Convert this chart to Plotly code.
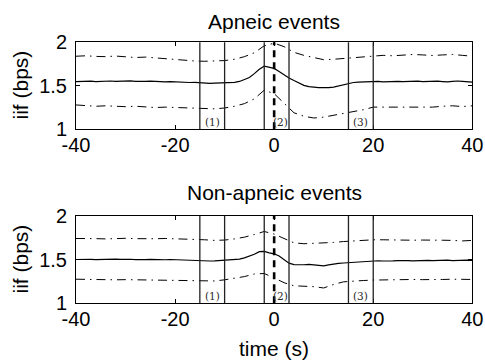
import plotly.graph_objects as go

# ---------------- data ----------------
time_fine = list(range(-40, 41))          # 1 s steps for mean curves
time_coarse = list(range(-40, 41, 2))     # 2 s steps for percentile bands

apneic_mean = [
    1.548, 1.552, 1.556, 1.553, 1.549, 1.553, 1.558, 1.555, 1.551, 1.555,
    1.559, 1.556, 1.550, 1.546, 1.550, 1.553, 1.548, 1.542, 1.545, 1.549,
    1.545, 1.538, 1.535, 1.538, 1.540,
    1.535, 1.530, 1.528, 1.530, 1.532, 1.533, 1.535, 1.540, 1.550, 1.568,
    1.595, 1.640, 1.690, 1.725, 1.715, 1.700, 1.665, 1.625, 1.590, 1.560,
    1.530, 1.505, 1.490, 1.480, 1.478, 1.480, 1.478, 1.485, 1.500, 1.515,
    1.530, 1.538, 1.542, 1.545, 1.548, 1.552, 1.550, 1.546, 1.550, 1.555,
    1.552, 1.547, 1.551, 1.556, 1.553, 1.548, 1.552, 1.557, 1.554, 1.549,
    1.545, 1.550, 1.555, 1.551, 1.546, 1.543,
]
apneic_upper = [
    1.840, 1.845, 1.838, 1.835, 1.842, 1.835, 1.825, 1.830, 1.820, 1.810,
    1.800, 1.795, 1.785, 1.782, 1.788, 1.790, 1.805, 1.835, 1.880, 1.960,
    1.990, 1.950, 1.885, 1.850, 1.825, 1.800, 1.805, 1.815, 1.825, 1.835,
    1.840, 1.850, 1.845, 1.855, 1.860, 1.855, 1.848, 1.855, 1.860, 1.850,
    1.840,
]
apneic_lower = [
    1.280, 1.275, 1.265, 1.270, 1.262, 1.260, 1.265, 1.255, 1.250, 1.255,
    1.250, 1.245, 1.240, 1.238, 1.235, 1.245, 1.265, 1.295, 1.350, 1.450,
    1.410, 1.300, 1.190, 1.150, 1.130, 1.140, 1.160, 1.185, 1.205, 1.225,
    1.255, 1.255, 1.260, 1.255, 1.262, 1.260, 1.255, 1.265, 1.270, 1.262,
    1.270,
]

nonapneic_mean = [
    1.500, 1.503, 1.505, 1.502, 1.499, 1.502, 1.506, 1.508, 1.505, 1.502,
    1.505, 1.503, 1.499, 1.496, 1.498, 1.501, 1.498, 1.495, 1.497, 1.500,
    1.497, 1.493, 1.492, 1.494, 1.491,
    1.488, 1.485, 1.483, 1.484, 1.487, 1.490, 1.492, 1.496, 1.505, 1.518,
    1.535, 1.560, 1.590, 1.592, 1.575, 1.565, 1.540, 1.500, 1.458, 1.442,
    1.438, 1.440, 1.444, 1.440, 1.432, 1.428, 1.438, 1.450, 1.455, 1.460,
    1.465, 1.468, 1.470, 1.472, 1.476, 1.482, 1.486, 1.483, 1.480, 1.484,
    1.488, 1.491, 1.488, 1.485, 1.489, 1.493, 1.490, 1.487, 1.490, 1.494,
    1.492, 1.488, 1.490, 1.494, 1.492, 1.489,
]
nonapneic_upper = [
    1.740, 1.742, 1.738, 1.735, 1.740, 1.742, 1.738, 1.735, 1.737, 1.740,
    1.738, 1.735, 1.732, 1.725, 1.718, 1.722, 1.735, 1.755, 1.785, 1.820,
    1.790, 1.740, 1.690, 1.680, 1.683, 1.688, 1.695, 1.705, 1.712, 1.720,
    1.725, 1.725, 1.722, 1.725, 1.720, 1.722, 1.725, 1.720, 1.718, 1.712,
    1.718,
]
nonapneic_lower = [
    1.275, 1.272, 1.270, 1.272, 1.268, 1.270, 1.268, 1.265, 1.268, 1.265,
    1.262, 1.264, 1.262, 1.255, 1.255, 1.268, 1.285, 1.305, 1.335, 1.340,
    1.290, 1.235, 1.200, 1.195, 1.190, 1.175, 1.215, 1.245, 1.255, 1.260,
    1.265, 1.268, 1.270, 1.268, 1.272, 1.270, 1.268, 1.272, 1.275, 1.270,
    1.272,
]

window_edges = [-15, -10, -2, 3, 15, 20]
event_time = [0]
window_labels = ["(1)", "(2)", "(3)"]
window_label_x = [-12.5, 1.3, 17.5]
window_label_y = 1.085

panel_titles = ["Apneic events", "Non-apneic events"]
x_ticks = [-40, -20, 0, 20, 40]
x_tick_text = ["-40", "-20", "0", "20", "40"]
y_ticks = [1, 1.5, 2]
y_tick_text = ["1", "1.5", "2"]

# ---------------- figure ----------------
W, H = 485, 360
fig = go.Figure()

panels = [
    ("x", "y", apneic_mean, apneic_upper, apneic_lower),
    ("x2", "y2", nonapneic_mean, nonapneic_upper, nonapneic_lower),
]
dashdot = "9px,5px,1.5px,5px"
for xa, ya, m, up, lo in panels:
    fig.add_trace(go.Scatter(x=time_coarse, y=up, xaxis=xa, yaxis=ya, mode="lines",
                             line=dict(color="black", width=1, dash=dashdot),
                             showlegend=False, hoverinfo="skip"))
    fig.add_trace(go.Scatter(x=time_coarse, y=lo, xaxis=xa, yaxis=ya, mode="lines",
                             line=dict(color="black", width=1, dash=dashdot),
                             showlegend=False, hoverinfo="skip"))
    fig.add_trace(go.Scatter(x=time_fine, y=m, xaxis=xa, yaxis=ya, mode="lines",
                             line=dict(color="black", width=1.2),
                             showlegend=False, hoverinfo="skip"))

shapes = []
annotations = []
for xa, ya in [("x", "y"), ("x2", "y2")]:
    for e in window_edges:
        shapes.append(dict(type="line", xref=xa, yref=ya + " domain", x0=e, x1=e, y0=0, y1=1,
                           line=dict(color="#222222", width=1.3), layer="above"))
    for e in event_time:
        shapes.append(dict(type="line", xref=xa, yref=ya + " domain", x0=e, x1=e, y0=0, y1=1,
                           line=dict(color="black", width=2.6, dash="7px,5px"), layer="above"))
    for lab, lx in zip(window_labels, window_label_x):
        annotations.append(dict(x=lx, y=window_label_y, xref=xa, yref=ya, text=lab,
                                showarrow=False, xanchor="center", yanchor="middle",
                                font=dict(family="DejaVu Serif", size=10.5, color="#2a2a2a")))

def py(pix):
    return 1 - pix / H

def px(pix):
    return pix / W

sans = "Liberation Sans, Arial, sans-serif"
# panel titles
annotations.append(dict(x=px(274), y=py(21), xref="paper", yref="paper", text=panel_titles[0],
                        showarrow=False, xanchor="center", yanchor="middle",
                        font=dict(family=sans, size=21, color="black")))
annotations.append(dict(x=px(274), y=py(192), xref="paper", yref="paper", text=panel_titles[1],
                        showarrow=False, xanchor="center", yanchor="middle",
                        font=dict(family=sans, size=21, color="black")))
# y labels
for cy in [85.5, 259.5]:
    annotations.append(dict(x=px(20), y=py(cy), xref="paper", yref="paper", text="iif (bps)",
                            showarrow=False, xanchor="center", yanchor="middle", textangle=-90,
                            font=dict(family=sans, size=21, color="black")))
# x label
annotations.append(dict(x=px(274), y=py(348), xref="paper", yref="paper", text="time (s)",
                        showarrow=False, xanchor="center", yanchor="middle",
                        font=dict(family=sans, size=21, color="black")))

xdom = [px(76), px(472.3)]
common_x = dict(range=[-40, 40], tickvals=x_ticks, ticktext=x_tick_text, ticks="inside",
                ticklen=4, tickwidth=1, tickcolor="black", showline=True, linecolor="black",
                linewidth=1, mirror="ticks", showgrid=False, zeroline=False, fixedrange=True,
                automargin=False, ticklabeloverflow="allow",
                tickfont=dict(family=sans, size=20, color="black"), ticklabelstandoff=-2)
common_y = dict(range=[1, 2], tickvals=y_ticks, ticktext=y_tick_text, ticks="inside", ticklen=4,
                tickwidth=1, tickcolor="black", showline=True, linecolor="black", linewidth=1,
                mirror="ticks", showgrid=False, zeroline=False, fixedrange=True,
                automargin=False, ticklabeloverflow="allow",
                tickfont=dict(family=sans, size=20, color="black"), ticklabelstandoff=4)

fig.update_layout(
    width=W, height=H,
    margin=dict(l=0, r=0, t=0, b=0),
    paper_bgcolor="white", plot_bgcolor="white",
    xaxis=dict(domain=xdom, anchor="y", **common_x),
    yaxis=dict(domain=[py(129.3), py(42.3)], anchor="x", **common_y),
    xaxis2=dict(domain=xdom, anchor="y2", **common_x),
    yaxis2=dict(domain=[py(303.3), py(215.7)], anchor="x2", **common_y),
    shapes=shapes,
    annotations=annotations,
    showlegend=False,
)

fig.write_html("out.html", config={"displayModeBar": False},
               post_script="document.body.style.margin='0';document.body.style.overflow='hidden';")
